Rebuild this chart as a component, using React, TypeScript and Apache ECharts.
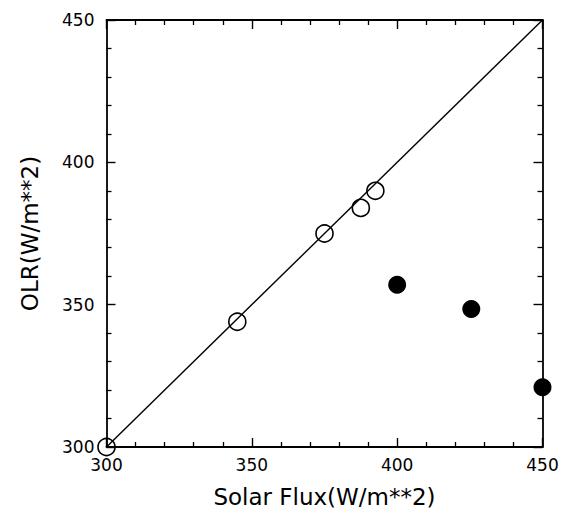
import React, { useEffect, useRef } from "react";
import * as echarts from "echarts";

const xTitle = "Solar Flux(W/m**2)";
const yTitle = "OLR(W/m**2)";
const axisMin = 300;
const axisMax = 450;
const axisInterval = 50;

const openX = [300, 345, 375, 387.5, 392.5];
const openY = [300, 344, 375, 384, 390];
const filledX = [400, 425.5, 450];
const filledY = [357, 348.5, 321];
const lineX = [300, 450];
const lineY = [300, 450];

const FONT = "DejaVu Sans";

export default function App() {
  const ref = useRef<HTMLDivElement>(null);
  useEffect(() => {
    document.body.style.margin = "0";
    if (!ref.current) return;
    const chart = echarts.init(ref.current, null, { renderer: "svg" });
    const axisCommon = {
      type: "value" as const,
      min: axisMin,
      max: axisMax,
      interval: axisInterval,
      axisLine: { show: true, onZero: false, lineStyle: { color: "#000", width: 1.8 } },
      axisTick: { show: true, inside: true, length: 9, lineStyle: { color: "#000", width: 1.4 } },
      minorTick: { show: true, splitNumber: 5, length: 5, lineStyle: { color: "#000", width: 1.3 } },
      splitLine: { show: false },
    };
    chart.setOption({
      animation: false,
      backgroundColor: "#fff",
      grid: { left: 106.5, right: 25.5, top: 20, bottom: 62, containLabel: false },
      xAxis: [
        {
          ...axisCommon,
          position: "bottom",
          name: xTitle,
          nameLocation: "middle",
          nameGap: 38,
          nameTextStyle: { fontFamily: FONT, fontSize: 23, color: "#000" },
          axisLabel: { show: true, margin: 9, fontFamily: FONT, fontSize: 17, color: "#000" },
        },
        {
          ...axisCommon,
          position: "top",
          axisLabel: { show: false },
        },
      ],
      yAxis: [
        {
          ...axisCommon,
          position: "left",
          name: yTitle,
          nameLocation: "middle",
          nameGap: 65,
          nameRotate: 90,
          nameTextStyle: { fontFamily: FONT, fontSize: 23, color: "#000" },
          axisLabel: { show: true, margin: 12, fontFamily: FONT, fontSize: 17, color: "#000" },
        },
        {
          ...axisCommon,
          position: "right",
          axisLabel: { show: false },
        },
      ],
      series: [
        {
          type: "line",
          data: lineX.map((x, i) => [x, lineY[i]]),
          showSymbol: false,
          symbol: "none",
          lineStyle: { color: "#000", width: 1.4 },
          z: 1,
        },
        {
          type: "scatter",
          data: openX.map((x, i) => [x, openY[i]]),
          symbol: "circle",
          symbolSize: 17,
          itemStyle: { color: "rgba(255,255,255,0)", borderColor: "#000", borderWidth: 1.6, opacity: 1 },
          z: 2,
        },
        {
          type: "scatter",
          data: filledX.map((x, i) => [x, filledY[i]]),
          symbol: "circle",
          symbolSize: 18,
          itemStyle: { color: "#000", opacity: 1 },
          z: 3,
        },
      ],
    });
    return () => chart.dispose();
  }, []);
  return <div ref={ref} style={{ width: 568, height: 513 }} />;
}
